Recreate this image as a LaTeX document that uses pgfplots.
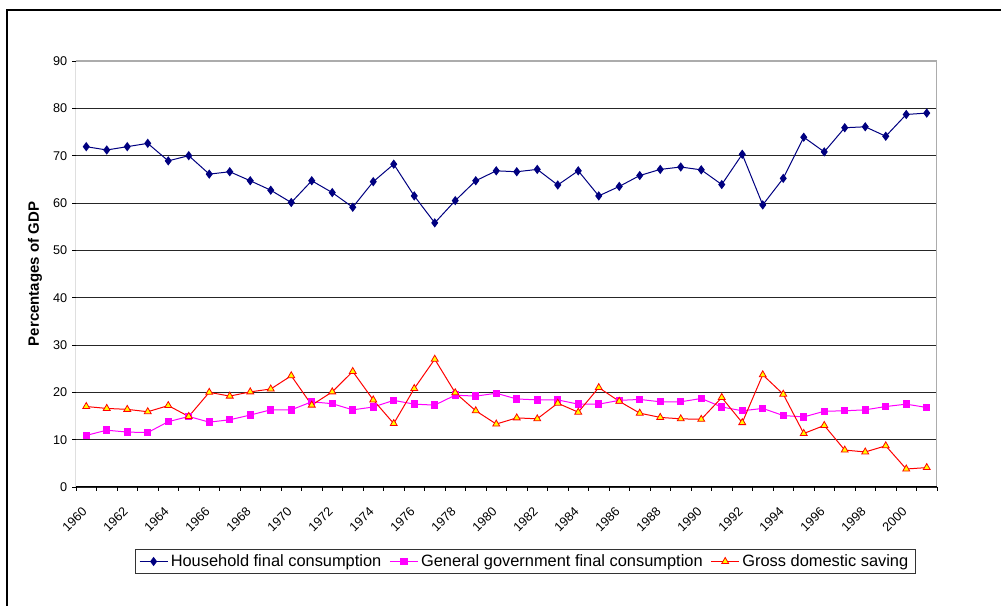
\documentclass[border=0pt]{standalone}
\usepackage{fontspec}
\setmainfont{Liberation Sans}
\usepackage{pgfplots}
\usepackage{pgfplotstable}
\pgfplotsset{compat=1.18}

\definecolor{navy}{RGB}{0,0,128}
\definecolor{xlmagenta}{RGB}{255,0,255}
\definecolor{xlyellow}{RGB}{255,255,0}
\definecolor{xlred}{RGB}{255,0,0}

% shares of GDP, per cent
\pgfplotstableread{
year hh   gov  sav
1960 71.9 10.9 17.0
1961 71.2 12.0 16.6
1962 71.9 11.6 16.4
1963 72.6 11.5 15.9
1964 68.9 13.8 17.2
1965 70.0 14.9 14.9
1966 66.1 13.7 20.0
1967 66.6 14.2 19.2
1968 64.7 15.2 20.1
1969 62.7 16.3 20.7
1970 60.1 16.3 23.5
1971 64.7 18.0 17.3
1972 62.2 17.6 20.1
1973 59.1 16.3 24.4
1974 64.5 16.9 18.4
1975 68.2 18.3 13.4
1976 61.5 17.5 20.8
1977 55.8 17.3 27.0
1978 60.5 19.4 19.9
1979 64.7 19.2 16.1
1980 66.8 19.8 13.3
1981 66.6 18.6 14.6
1982 67.1 18.4 14.4
1983 63.8 18.4 17.7
1984 66.8 17.5 15.8
1985 61.5 17.5 21.0
1986 63.5 18.3 18.1
1987 65.8 18.5 15.6
1988 67.1 18.0 14.7
1989 67.6 18.0 14.4
1990 67.0 18.7 14.3
1991 63.9 16.9 18.9
1992 70.3 16.1 13.6
1993 59.6 16.6 23.7
1994 65.2 15.1 19.6
1995 73.9 14.8 11.3
1996 70.8 16.0 13.0
1997 75.9 16.1 7.8
1998 76.1 16.3 7.4
1999 74.1 17.0 8.7
2000 78.7 17.5 3.8
2001 79.0 16.8 4.1
}\gdpdata

\begin{document}
\begin{tikzpicture}
\path[use as bounding box] (0,0) rectangle (750.75pt,454.5pt);
\draw[line width=1.5pt] (5.25pt,-5pt) -- (5.25pt,447pt) -- (760pt,447pt);
\begin{axis}[
    at={(57pt,89.25pt)}, anchor=south west,
    scale only axis,
    width=645.75pt, height=319.5pt,
    xmin=1959.5, xmax=2001.5,
    ymin=0, ymax=90,
    axis line style={draw=none},
    tick pos=left, tick align=outside,
    major tick length=3pt, minor tick length=3pt,
    tick style={black, line width=0.6pt},
    xtick={1960,1962,...,2000},
    major x tick style={draw=none},
    minor xtick={1959.5,1960.5,...,2001.5},
    ytick={0,10,...,80},
    extra y ticks={90},
    extra y tick style={grid=none},
    ymajorgrids,
    major grid style={black!85, line width=0.7pt},
    /pgf/number format/assume math mode=true,
    tick label style={font=\fontsize{9.5}{11}\selectfont},
    xticklabel style={rotate=45, anchor=east, xshift=-7.3pt, yshift=-9pt,
        /pgf/number format/1000 sep={}},
    ylabel={Percentages of GDP},
    every axis y label/.style={at={(axis description cs:0,0.5)}, xshift=-30.75pt,
        rotate=90, anchor=center, font=\bfseries\fontsize{11.25}{13}\selectfont},
    legend style={at={(0.5215,-0.1749)}, anchor=center, legend columns=-1,
        draw=black!80, line width=0.6pt, font=\fontsize{12.3}{14}\selectfont,
        /tikz/every even column/.append style={column sep=4pt}},
    legend image code/.code={%
        \draw[mark repeat=2, mark phase=2] plot coordinates {(0pt,0pt) (10.5pt,0pt) (21pt,0pt)};},
]
\addplot[color=navy, line width=0.75pt, mark=diamond*, mark size=2.9pt,
    mark options={fill=navy}] table[x=year, y=hh] {\gdpdata};
\addplot[color=xlmagenta, line width=0.75pt, mark=square*, mark size=2.4pt,
    mark options={fill=xlmagenta}] table[x=year, y=gov] {\gdpdata};
\addplot[color=xlred, line width=0.75pt, mark=triangle*, mark size=3pt,
    mark options={fill=xlyellow, draw=xlred, line width=0.6pt}] table[x=year, y=sav] {\gdpdata};
\legend{Household final consumption, General government final consumption, Gross domestic saving}
\draw[gray!65, line width=1pt] (rel axis cs:0,1) -- (rel axis cs:1,1) -- (rel axis cs:1,0);
\draw[black, line width=0.75pt] (rel axis cs:0,1) -- (rel axis cs:0,0) -- (rel axis cs:1,0);
\end{axis}
\end{tikzpicture}
\end{document}
